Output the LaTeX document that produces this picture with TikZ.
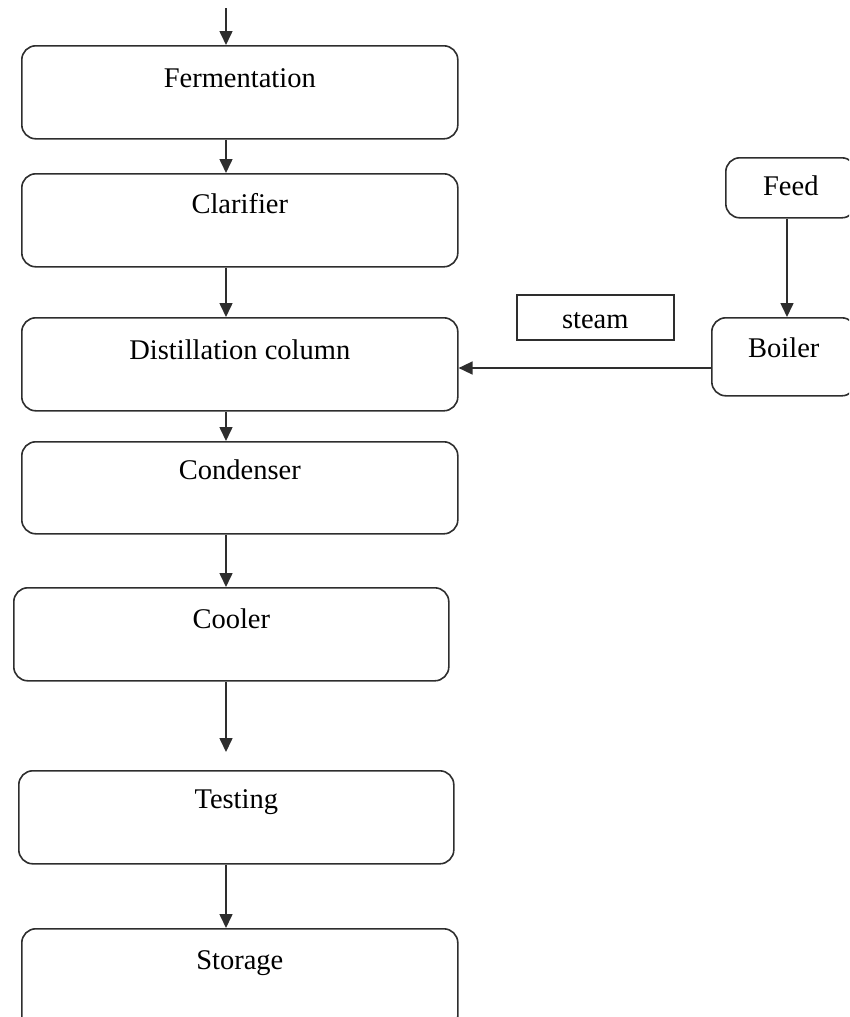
\documentclass[tikz,border=0pt]{standalone}
\usepackage{fontspec}
\setmainfont{Liberation Serif}
\usetikzlibrary{arrows.meta}
\definecolor{ln}{gray}{0.18}
\newcommand{\fs}{\fontsize{28.5}{34}\selectfont}
\tikzset{
  box/.style={draw=ln, line width=1.6pt, rounded corners=14pt, inner xsep=0pt, inner ysep=0pt,
              anchor=north west, font=\fs, text=black},
  sbox/.style={draw=ln, line width=1.6pt, inner xsep=0pt, inner ysep=0pt,
              anchor=north west, font=\fs, text=black},
  arr/.style={draw=ln, line width=1.6pt, -{Triangle[length=14pt,width=13pt]}},
}
\begin{document}
\begin{tikzpicture}[x=1pt,y=-1pt]
\clip (0,0) rectangle (849,1017);
% main column
\node[box, minimum width=436pt, text height=42pt, text depth=51pt] (ferm) at (21,45) {Fermentation};
\node[box, minimum width=436pt, text height=40pt, text depth=53pt] (clar) at (21,173) {Clarifier};
\node[box, minimum width=436pt, text height=42pt, text depth=51pt] (dist) at (21,317) {Distillation column};
\node[box, minimum width=436pt, text height=38pt, text depth=54pt] (cond) at (21,441) {Condenser};
\node[box, minimum width=435pt, text height=41pt, text depth=52pt] (cool) at (13,587) {Cooler};
\node[box, minimum width=435pt, text height=38pt, text depth=55pt] (test) at (18,770) {Testing};
\node[box, minimum width=436pt, text height=41pt, text depth=60pt] (stor) at (21,928) {Storage};
% side
\node[box, minimum width=130pt, text height=38pt, text depth=22pt] (feed) at (725,157) {Feed};
\node[box, minimum width=144pt, text height=40pt, text depth=38pt] (boil) at (711,317) {Boiler};
\node[sbox, minimum width=157pt, text height=34pt, text depth=11pt] (steam) at (516,294) {steam};
% reference coordinates
\coordinate (ax) at (226,0);
\coordinate (top) at (226,8);
\coordinate (coolend) at (226,752);
\coordinate (fx) at (787,0);
\coordinate (sy) at (0,368);
% connectors
\draw[arr] (top) -- (ferm.north -| ax);
\draw[arr] (ferm.south -| ax) -- (clar.north -| ax);
\draw[arr] (clar.south -| ax) -- (dist.north -| ax);
\draw[arr] (dist.south -| ax) -- (cond.north -| ax);
\draw[arr] (cond.south -| ax) -- (cool.north -| ax);
\draw[arr] (cool.south -| ax) -- (coolend);
\draw[arr] (test.south -| ax) -- (stor.north -| ax);
\draw[arr] (feed.south -| fx) -- (boil.north -| fx);
\draw[arr] (boil.west |- sy) -- (dist.east |- sy);
\end{tikzpicture}
\end{document}
